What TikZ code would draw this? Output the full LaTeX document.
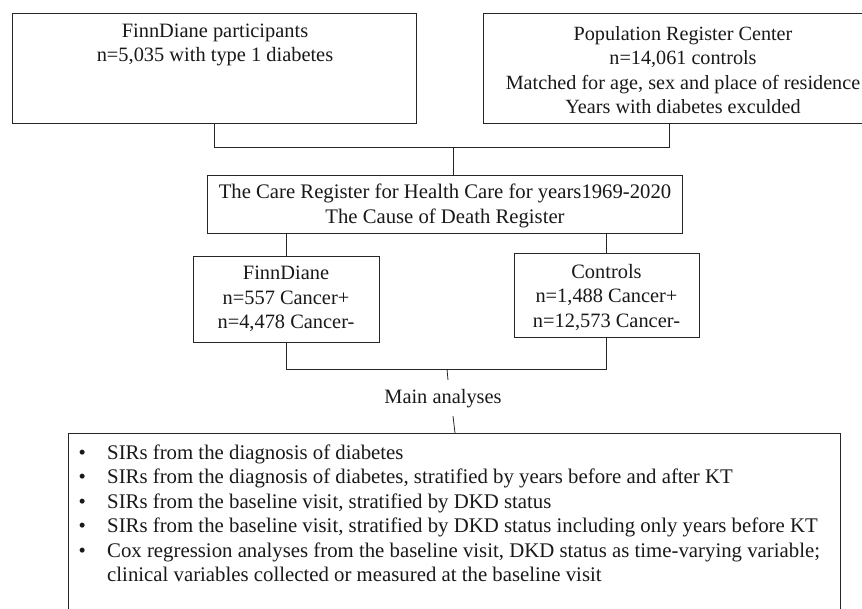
\documentclass[tikz,border=0pt]{standalone}
\usepackage{fontspec}
\setmainfont{Liberation Serif}
\usepackage{array}
\begin{document}
\begin{tikzpicture}[x=1pt,y=-1pt,
  box/.style={draw=black!85,line width=0.8pt,inner sep=0pt,fill=white},
  txt/.style={align=center,inner sep=0pt,font=\fontsize{20.4}{24.5}\selectfont,text=black!90},
  conn/.style={draw=black!85,line width=0.8pt}]
\useasboundingbox (0,0) rectangle (862,609);
\clip (0,0) rectangle (862,609);
% boxes
\node[box,minimum width=404pt,minimum height=110pt] (A) at (214,68) {};
\node[box,minimum width=398pt,minimum height=110pt] (B) at (682,68) {};
\node[box,minimum width=475pt,minimum height=58pt] (C) at (444.5,204) {};
\node[box,minimum width=186pt,minimum height=86pt] (F) at (286,299) {};
\node[box,minimum width=185pt,minimum height=84pt] (K) at (606.5,295) {};
\node[box,minimum width=772pt,minimum height=227pt] (M) at (454,546.5) {};
% texts
\node[txt] (At) at (215,45) {FinnDiane participants\\n=5,035 with type 1 diabetes};
\node[txt,font=\fontsize{20.2}{24.5}\selectfont] (Bt) at (683,70) {Population Register Center\\n=14,061 controls\\Matched for age, sex and place of residence\\Years with diabetes exculded};
\node[txt,font=\fontsize{20.7}{24.5}\selectfont] (Ct) at (445,206) {The Care Register for Health Care for years1969-2020\\The Cause of Death Register};
\node[txt] (Ft) at (286,299) {FinnDiane\\n=557 Cancer+\\n=4,478 Cancer-};
\node[txt] (Kt) at (606.5,297) {Controls\\n=1,488 Cancer+\\n=12,573 Cancer-};
\node[txt] (main) at (443,399) {Main analyses};
\node[txt,anchor=north west,align=left,font=\fontsize{20.8}{24.5}\selectfont] (Mt) at (78.5,442) {%
\begin{tabular}{@{}p{28.5pt}@{}l@{}}
•& SIRs from the diagnosis of diabetes\\
•& SIRs from the diagnosis of diabetes, stratified by years before and after KT\\
•& SIRs from the baseline visit, stratified by DKD status\\
•& SIRs from the baseline visit, stratified by DKD status including only years before KT\\
•& Cox regression analyses from the baseline visit, DKD status as time-varying variable;\\
 & clinical variables collected or measured at the baseline visit
\end{tabular}};
% connectors
\coordinate (j1) at (453,147);
\draw[conn] (A.south) -- ++(0,24) -| ([xshift=-13pt]B.south);
\draw[conn] (j1) -- (C.north -| j1);
\draw[conn] (C.south -| F.north) -- (F.north);
\draw[conn] (C.south -| K.north) -- (K.north);
\draw[conn] (F.south) -- ++(0,27) -| (K.south);
\coordinate (m1) at (447,369);
\coordinate (m2) at (448,380);
\coordinate (m3) at (453,416);
\coordinate (m4) at (455,433);
\draw[conn] (m1) -- (m2);
\draw[conn] (m3) -- (m4);
\end{tikzpicture}
\end{document}
